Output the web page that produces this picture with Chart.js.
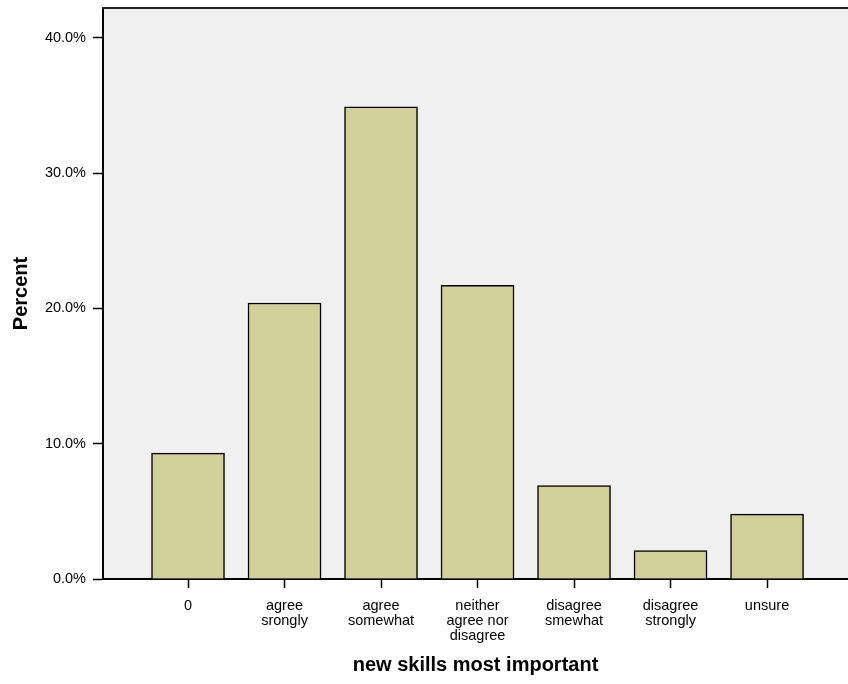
<!DOCTYPE html>
<html>
<head>
<meta charset="utf-8">
<script src="https://cdn.jsdelivr.net/npm/chart.js@4.4.1/dist/chart.umd.min.js"></script>
<style>
html,body{margin:0;padding:0;background:#fff;}
canvas{display:block;}
</style>
</head>
<body>
<canvas id="c" width="848" height="684"></canvas>
<script>
const categories = [
  "0",
  ["agree", "srongly"],
  ["agree", "somewhat"],
  ["neither", "agree nor", "disagree"],
  ["disagree", "smewhat"],
  ["disagree", "strongly"],
  "unsure"
];
const percentValues = [9.3, 20.4, 34.9, 21.7, 6.9, 2.1, 4.8];
const yTickValues = [0, 10, 20, 30, 40];
const xTitle = "new skills most important";
const yTitle = "Percent";

const FONT = "'Liberation Sans', Arial, sans-serif";

const plotBg = {
  id: 'plotBg',
  beforeDraw(chart) {
    const {ctx, chartArea: a} = chart;
    ctx.save();
    ctx.fillStyle = '#f0f0f0';
    ctx.fillRect(a.left, a.top, a.right - a.left, a.bottom - a.top);
    ctx.restore();
  },
  afterDraw(chart) {
    const {ctx, chartArea: a} = chart;
    ctx.save();
    ctx.strokeStyle = '#222';
    ctx.lineWidth = 2;
    ctx.beginPath();
    ctx.moveTo(a.left - 1, a.top);
    ctx.lineTo(a.right, a.top);
    ctx.stroke();
    ctx.restore();
  }
};

new Chart(document.getElementById('c'), {
  type: 'bar',
  data: {
    datasets: [{
      data: percentValues.map((v, i) => ({x: i, y: v})),
      backgroundColor: '#d3cf98',
      borderColor: '#000',
      borderWidth: 1.5,
      barThickness: 73
    }]
  },
  options: {
    responsive: false,
    animation: false,
    devicePixelRatio: 1,
    layout: {padding: {top: 8, right: 0, left: 0, bottom: 0}},
    plugins: {legend: {display: false}, tooltip: {enabled: false}},
    scales: {
      x: {
        type: 'linear',
        min: -0.881,
        max: 6.839,
        offset: false,
        grid: {offset: false, drawOnChartArea: false, drawTicks: true, tickLength: 9, tickColor: '#000', tickWidth: 1.5},
        border: {color: '#000', width: 2},
        afterBuildTicks(s) { s.ticks = categories.map((c, i) => ({value: i})); },
        afterFit(s) { s.height = 105; s.paddingLeft = 0; s.paddingRight = 0; },
        ticks: {
          autoSkip: false,
          maxRotation: 0,
          padding: 10,
          color: '#000',
          font: {family: FONT, size: 14.5, lineHeight: 1.04},
          callback: (v) => categories[v]
        },
        title: {
          display: true,
          text: xTitle,
          color: '#000',
          font: {family: FONT, size: 20, weight: 'bold'},
          padding: {top: 0, bottom: 7}
        }
      },
      y: {
        min: 0,
        max: 42.2,
        grid: {drawOnChartArea: false, drawTicks: true, tickLength: 10, tickColor: '#000', tickWidth: 1.5},
        border: {color: '#000', width: 2},
        afterBuildTicks(s) { s.ticks = yTickValues.map(v => ({value: v})); },
        afterFit(s) { s.width = 103; s.paddingTop = 0; s.paddingBottom = 0; },
        ticks: {
          padding: 7,
          color: '#000',
          font: {family: FONT, size: 14.5},
          callback: (v) => v.toFixed(1) + '%'
        },
        title: {
          display: true,
          text: yTitle,
          color: '#000',
          font: {family: FONT, size: 20, weight: 'bold'},
          padding: {top: 9, bottom: 0}
        }
      }
    }
  },
  plugins: [plotBg]
});
</script>
</body>
</html>
